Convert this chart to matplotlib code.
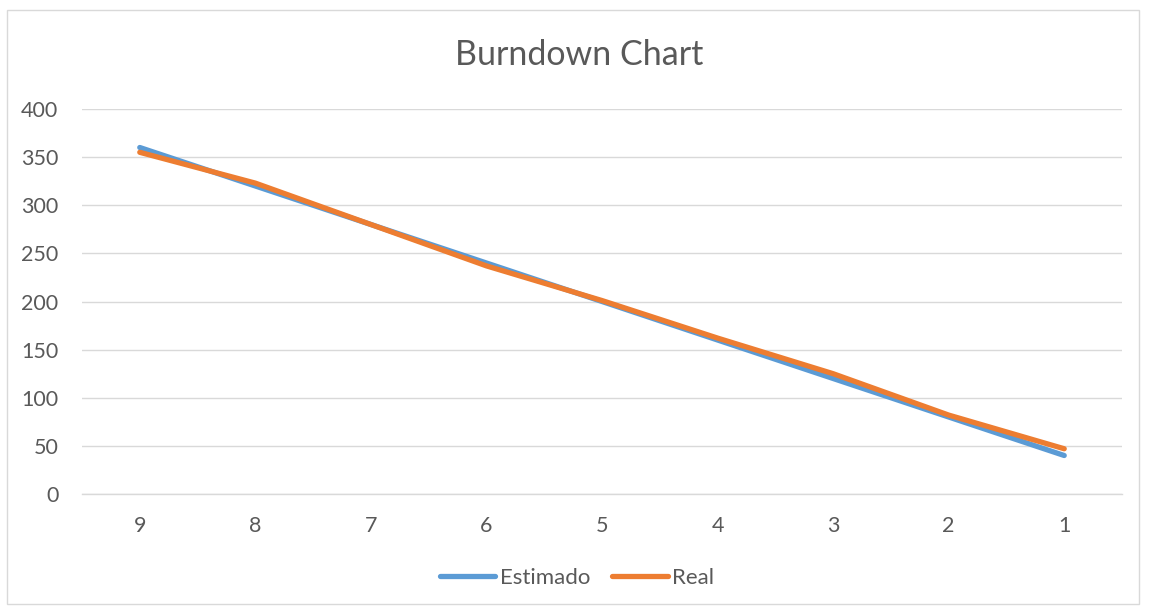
import matplotlib
matplotlib.use("Agg")
import matplotlib.pyplot as plt
from matplotlib.patches import Rectangle
from matplotlib.lines import Line2D

days = ["9", "8", "7", "6", "5", "4", "3", "2", "1"]
estimado = [360, 320, 280, 240, 200, 160, 120, 80, 40]
real = [355, 323, 280, 237, 201, 162, 125, 82, 47]
y_ticks = [0, 50, 100, 150, 200, 250, 300, 350, 400]

TEXT = "#595959"
GRID = "#d9d9d9"
BLUE = "#5b9bd5"
ORANGE = "#ed7d31"

plt.rcParams["font.family"] = ["Lato", "DejaVu Sans"]

fig = plt.figure(figsize=(11.49, 6.12), dpi=100)
fig.patches.append(Rectangle((7 / 1149, 1 - 604 / 612), 1132 / 1149, 594 / 612,
                             transform=fig.transFigure, fill=False,
                             edgecolor=GRID, linewidth=1.0))

ax = fig.add_axes([82 / 1149, 1 - 494 / 612, 1040 / 1149, 385 / 612])
x = list(range(len(days)))
ax.plot(x, estimado, color=BLUE, linewidth=3.8, solid_capstyle="round",
        solid_joinstyle="round", label="Estimado", zorder=3)
ax.plot(x, real, color=ORANGE, linewidth=3.8, solid_capstyle="round",
        solid_joinstyle="round", label="Real", zorder=4)

ax.set_xlim(-0.5, len(days) - 0.5)
ax.set_ylim(0, 400)
ax.set_xticks(x)
ax.set_xticklabels(days)
ax.set_yticks(y_ticks)
ax.tick_params(axis="both", length=0, colors=TEXT, labelsize=15.5)
ax.tick_params(axis="x", pad=16)
ax.tick_params(axis="y", pad=17)
ax.grid(axis="y", color=GRID, linewidth=1.0)
ax.set_axisbelow(True)
for side in ("left", "right", "top"):
    ax.spines[side].set_visible(False)
ax.spines["bottom"].set_color(GRID)
ax.spines["bottom"].set_linewidth(1.0)

fig.text(579 / 1149, 1 - 55 / 612, "Burndown Chart", ha="center", va="center",
         fontsize=24.5, color=TEXT)

handles = [Line2D([], [], color=BLUE, linewidth=3.8, solid_capstyle="round"),
           Line2D([], [], color=ORANGE, linewidth=3.8, solid_capstyle="round")]
fig.legend(handles, ["Estimado", "Real"], loc="center",
           bbox_to_anchor=(577 / 1149, 1 - 578 / 612), ncol=2, frameon=False,
           fontsize=16, labelcolor=TEXT, handlelength=2.5, handletextpad=0.2,
           columnspacing=1.0)

fig.savefig("out.png", dpi=100)
